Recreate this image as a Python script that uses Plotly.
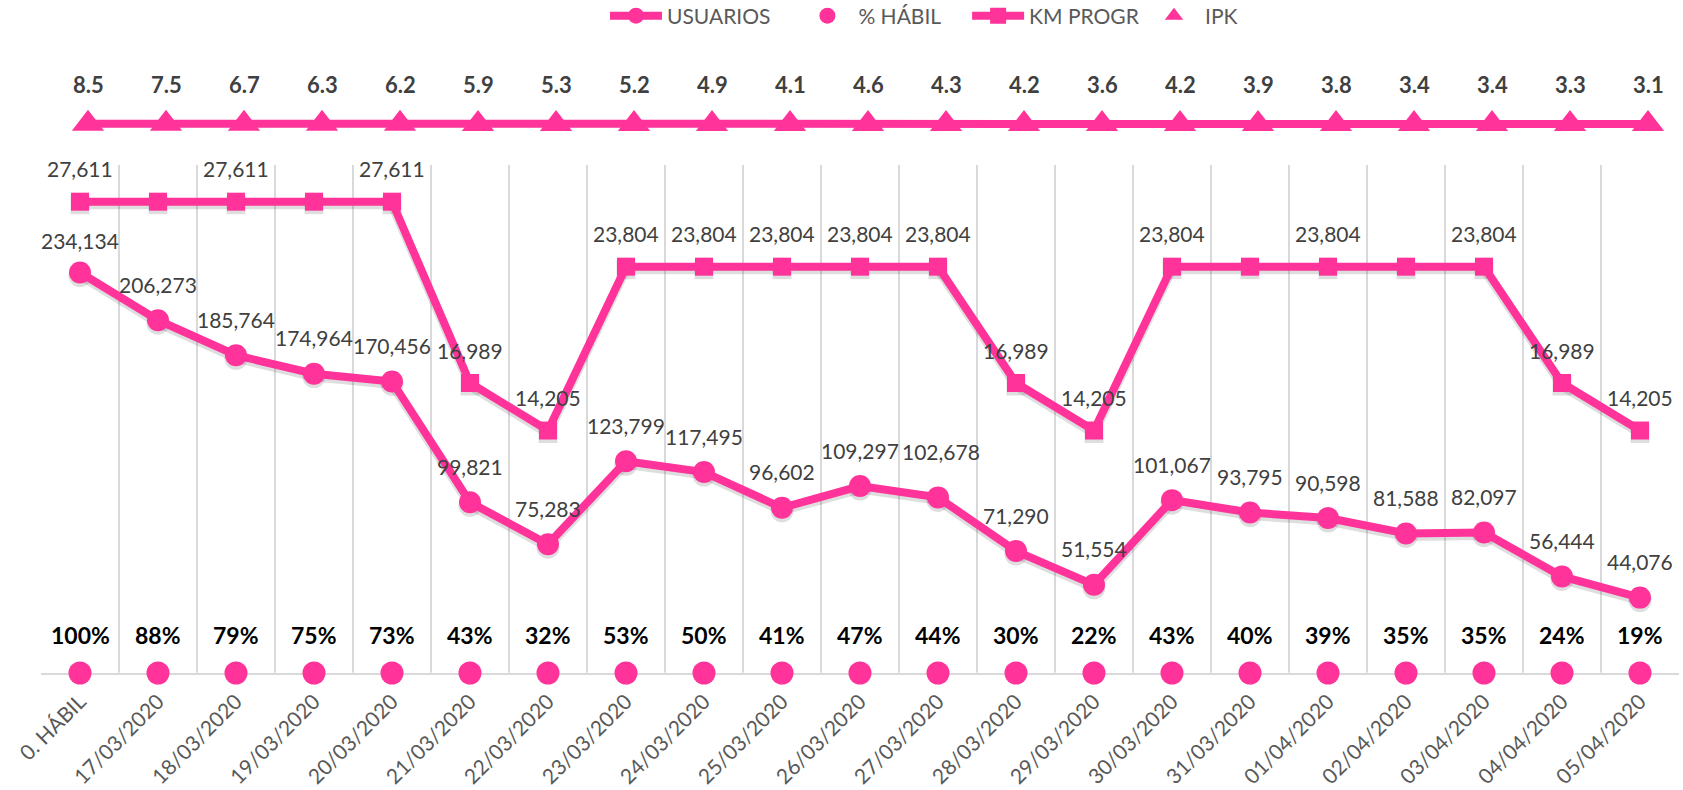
import plotly.graph_objects as go

# ---- data -------------------------------------------------------------
categories = [
    "0. HÁBIL", "17/03/2020", "18/03/2020", "19/03/2020", "20/03/2020",
    "21/03/2020", "22/03/2020", "23/03/2020", "24/03/2020", "25/03/2020",
    "26/03/2020", "27/03/2020", "28/03/2020", "29/03/2020", "30/03/2020",
    "31/03/2020", "01/04/2020", "02/04/2020", "03/04/2020", "04/04/2020",
    "05/04/2020",
]
usuarios = [
    234134, 206273, 185764, 174964, 170456, 99821, 75283, 123799, 117495,
    96602, 109297, 102678, 71290, 51554, 101067, 93795, 90598, 81588, 82097,
    56444, 44076,
]
km_progr = [
    27611, 27611, 27611, 27611, 27611, 16989, 14205, 23804, 23804, 23804,
    23804, 23804, 16989, 14205, 23804, 23804, 23804, 23804, 23804, 16989,
    14205,
]
pct_habil = [100, 88, 79, 75, 73, 43, 32, 53, 50, 41, 47, 44, 30, 22, 43, 40,
             39, 35, 35, 24, 19]
ipk = [8.5, 7.5, 6.7, 6.3, 6.2, 5.9, 5.3, 5.2, 4.9, 4.1, 4.6, 4.3, 4.2, 3.6,
       4.2, 3.9, 3.8, 3.4, 3.4, 3.3, 3.1]
# which KM PROGR points carry a value label
km_labeled = [True, False, True, False, True, True, True, True, True, True,
              True, True, True, True, True, False, True, False, True, True,
              True]

# ---- styling / geometry -------------------------------------------------
PINK = "#FF3399"
SHADOW = "rgba(60,60,60,0.17)"
GRID = "#D9D9D9"
LABEL = "#404040"
FONT = "Lato"
PAD = "\u2002\u2002"          # extra room after each legend entry

W, H = 1683, 790
M_L, M_R, M_T, M_B = 41, 4, 60, 117
plot_h = H - M_T - M_B
main_top = 165                # top of the main chart area (px from top)
ipk_row = 124                 # vertical position of the IPK strip (px)

n = len(categories)
xs = list(range(n))
cat_px = (W - M_L - M_R) / n  # width of one category slot
ipk_dx = 8 / cat_px           # IPK strip sits slightly right of the grid

usu_max = 297000
km_max = 29760
main_span = H - M_B - main_top
main_dom_top = main_span / plot_h

ipk_c = (H - M_B - ipk_row) / plot_h
ipk_half = 0.035
ipk_span = 2 * ipk_half * plot_h
ipk_rng_y = [-1000, 1000]

sh_dy = 3                     # drop shadow offset (px, downwards)


def lowered(lo, hi, span_px, d_px):
    """Axis range that draws the same values d_px lower on screen."""
    d = (hi - lo) * d_px / span_px
    return [lo + d, hi + d]


# label nudges (px) where a label sits higher than the default
usu_shift = {0: (0, 32), 11: (3, 46)}

fig = go.Figure()

# drop shadows (base subplots, drawn first)
fig.add_trace(go.Scatter(
    x=xs, y=usuarios, mode="lines+markers", yaxis="y",
    line=dict(color=SHADOW, width=9),
    marker=dict(color=SHADOW, size=23), cliponaxis=False,
    showlegend=False, hoverinfo="skip",
))
fig.add_trace(go.Scatter(
    x=xs, y=km_progr, mode="lines+markers", yaxis="y2",
    line=dict(color=SHADOW, width=9),
    marker=dict(color=SHADOW, size=19, symbol="square"), cliponaxis=False,
    showlegend=False, hoverinfo="skip",
))
fig.add_trace(go.Scatter(
    x=xs, y=ipk, mode="lines+markers", xaxis="x2", yaxis="y4",
    line=dict(color=SHADOW, width=9),
    marker=dict(color=SHADOW, size=29, symbol="triangle-up"),
    cliponaxis=False, showlegend=False, hoverinfo="skip",
))

# series
fig.add_trace(go.Scatter(
    x=xs, y=usuarios, name="USUARIOS" + PAD, mode="lines+markers",
    yaxis="y5", line=dict(color=PINK, width=8),
    marker=dict(color=PINK, size=22), cliponaxis=False,
))
fig.add_trace(go.Scatter(
    x=xs, y=pct_habil, name="% HÁBIL" + PAD, mode="markers", yaxis="y3",
    marker=dict(color=PINK, size=23), cliponaxis=False,
))
fig.add_trace(go.Scatter(
    x=xs, y=km_progr, name="KM PROGR", mode="lines+markers", yaxis="y6",
    line=dict(color=PINK, width=8),
    marker=dict(color=PINK, size=18, symbol="square"), cliponaxis=False,
))
fig.add_trace(go.Scatter(
    x=xs, y=ipk, name="IPK", mode="lines+markers", xaxis="x2", yaxis="y7",
    line=dict(color=PINK, width=8),
    marker=dict(color=PINK, size=28, symbol="triangle-up"),
    cliponaxis=False, showlegend=False,
))
# legend entry for IPK shows the marker only
fig.add_trace(go.Scatter(
    x=[None], y=[None], name="IPK", mode="markers", xaxis="x2", yaxis="y7",
    marker=dict(color=PINK, size=24, symbol="triangle-up"), legend="legend2",
))

value_font = dict(family=FONT, size=21, color=LABEL)
annotations = []
for i, v in enumerate(usuarios):
    dx, dy = usu_shift.get(i, (0, 36))
    annotations.append(dict(
        x=i, y=v, xref="x", yref="y5", text=f"{v:,}", showarrow=False,
        xshift=dx, yshift=dy, font=value_font,
    ))
for i, v in enumerate(km_progr):
    if km_labeled[i]:
        annotations.append(dict(
            x=i, y=v, xref="x", yref="y6", text=f"{v:,}", showarrow=False,
            yshift=33, font=value_font,
        ))
for i, v in enumerate(pct_habil):
    annotations.append(dict(
        x=i, y=v, xref="x", yref="y3", text=f"<b>{v}%</b>", showarrow=False,
        yshift=38, font=dict(family=FONT, size=23, color="#000000"),
    ))
for i, v in enumerate(ipk):
    annotations.append(dict(
        x=i, y=v, xref="x2", yref="y7", text=f"<b>{v:.1f}</b>",
        showarrow=False, yshift=39,
        font=dict(family=FONT, size=22, color=LABEL),
    ))

legend_font = dict(family=FONT, size=21, color="#595959")

fig.update_layout(
    width=W, height=H,
    margin=dict(l=M_L, r=M_R, t=M_T, b=M_B),
    paper_bgcolor="white", plot_bgcolor="white",
    font=dict(family=FONT),
    showlegend=True,
    legend=dict(
        orientation="h", xref="container", yref="container",
        x=605 / W, xanchor="left", y=1 - 16 / H, yanchor="middle",
        font=legend_font, itemwidth=52, traceorder="normal",
    ),
    legend2=dict(
        orientation="h", xref="container", yref="container",
        x=1143 / W, xanchor="left", y=1 - 16 / H, yanchor="middle",
        font=legend_font, itemwidth=52,
    ),
    xaxis=dict(
        range=[-0.5, n - 0.5], automargin=False,
        tickmode="array", tickvals=xs, ticktext=categories, tickangle=-45,
        tickfont=dict(family=FONT, size=21, color="#595959"),
        ticklabelstandoff=6,
        showgrid=False, zeroline=False, ticks="",
        showline=True, linecolor=GRID, linewidth=2,
        minor=dict(tickvals=[i - 0.5 for i in range(n + 1)],
                   showgrid=True, gridcolor=GRID, gridwidth=1.5, ticks=""),
    ),
    xaxis2=dict(overlaying="x", range=[-0.5 - ipk_dx, n - 0.5 - ipk_dx],
                visible=False),
    # shadow axes
    yaxis=dict(domain=[0, main_dom_top], visible=False, automargin=False,
               range=lowered(0, usu_max, main_span, sh_dy)),
    yaxis2=dict(overlaying="y", visible=False,
                range=lowered(0, km_max, main_span, sh_dy)),
    yaxis4=dict(domain=[ipk_c - ipk_half, ipk_c + ipk_half], visible=False,
                anchor="x2",
                range=lowered(ipk_rng_y[0], ipk_rng_y[1], ipk_span, sh_dy)),
    # series axes
    yaxis3=dict(domain=[0, 0.0005], range=[0, 100000], visible=False,
                anchor="x"),
    yaxis5=dict(overlaying="y", range=[0, usu_max], visible=False),
    yaxis6=dict(overlaying="y", range=[0, km_max], visible=False),
    yaxis7=dict(overlaying="y4", range=ipk_rng_y, visible=False,
                anchor="x2"),
    annotations=annotations,
)

fig.write_html("out.html")
